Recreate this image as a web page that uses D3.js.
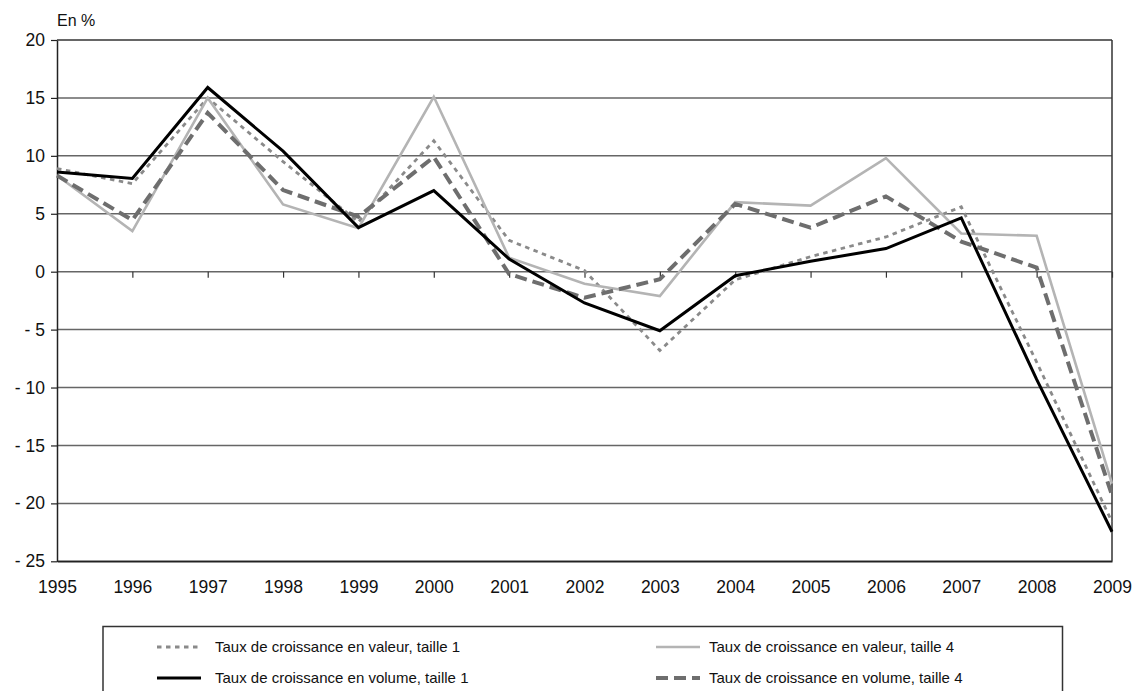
<!DOCTYPE html>
<html><head><meta charset="utf-8">
<script src="https://cdn.jsdelivr.net/npm/d3@7/dist/d3.min.js"></script>
<style>body{margin:0;background:#fff}svg{display:block;font-family:"Liberation Sans",Arial,sans-serif}</style>
</head><body><svg id="c" width="1133" height="691"></svg>
<script>
const years = [1995,1996,1997,1998,1999,2000,2001,2002,2003,2004,2005,2006,2007,2008,2009];
const valeurT1 = [8.9,7.6,15.0,9.5,4.3,11.3,2.7,0.1,-6.8,-0.7,1.3,3.0,5.6,-7.8,-21.6];
const valeurT4 = [8.3,3.5,15.0,5.8,3.75,15.1,1.2,-1.05,-2.1,6.0,5.7,9.8,3.3,3.1,-18.3];
const volumeT1 = [8.6,8.05,15.9,10.4,3.8,7.0,1.1,-2.7,-5.1,-0.35,0.9,2.0,4.65,-9.3,-22.45];
const volumeT4 = [8.3,4.45,13.7,7.05,4.75,9.9,-0.2,-2.25,-0.65,5.85,3.8,6.5,2.6,0.35,-19.3];
const yTicks = [20,15,10,5,0,-5,-10,-15,-20,-25];
const seriesNames = ["Taux de croissance en valeur, taille 1","Taux de croissance en valeur, taille 4","Taux de croissance en volume, taille 1","Taux de croissance en volume, taille 4"];

const svg = d3.select("#c");
const L=57, R=1112, T=40, B=561.3;
const x = d3.scaleLinear().domain([1995,2009]).range([L,R]);
const y = d3.scaleLinear().domain([-25,20]).range([B,T]);
const FF = "Liberation Sans, Arial, sans-serif";

// gridlines
svg.append("g").selectAll("line").data(yTicks).join("line")
  .attr("x1",L).attr("x2",R).attr("y1",d=>y(d)).attr("y2",d=>y(d))
  .attr("stroke",d=>d===20||d===-25?"#333":"#666").attr("stroke-width",1.5);
// right border
svg.append("line").attr("x1",R).attr("x2",R).attr("y1",T).attr("y2",B).attr("stroke","#333").attr("stroke-width",1.5);

// y axis
const yAx = svg.append("g").attr("transform",`translate(${L},0)`)
  .call(d3.axisLeft(y).tickValues(yTicks).tickSize(6).tickSizeOuter(0)
    .tickFormat(d=>d<0?"- "+Math.abs(d):String(d)));
yAx.select(".domain").attr("stroke","#222").attr("stroke-width",1.5);
yAx.selectAll(".tick line").attr("stroke","#222").attr("stroke-width",1.2);
yAx.selectAll(".tick text").attr("font-size",17.5).attr("fill","#111").attr("x",-12).attr("font-family",FF);

// x tick marks on zero line
const xAx0 = svg.append("g").attr("transform",`translate(0,${y(0)})`)
  .call(d3.axisBottom(x).tickValues(years.slice(1)).tickSize(6).tickFormat(""));
xAx0.select(".domain").remove();
xAx0.selectAll(".tick line").attr("stroke","#333").attr("stroke-width",1.2);

// x labels at bottom
const xAx = svg.append("g").attr("transform",`translate(0,${B})`)
  .call(d3.axisBottom(x).tickValues(years).tickSize(0).tickFormat(d3.format("d")));
xAx.select(".domain").attr("stroke","#222").attr("stroke-width",1.5);
xAx.selectAll(".tick text").attr("font-size",17.5).attr("fill","#111").attr("y",19).attr("dy","0.71em").attr("font-family",FF);

svg.append("text").attr("x",L).attr("y",26).attr("font-size",16).attr("fill","#111").attr("font-family",FF).text("En %");

const styles = [
  {data:valeurT1, color:"#8a8a8a", w:2.8, dash:"4.5,4.5"},
  {data:valeurT4, color:"#b4b4b4", w:2.6, dash:null},
  {data:volumeT4, color:"#6e6e6e", w:4, dash:"12,6"},
  {data:volumeT1, color:"#000", w:3, dash:null}
];
const line = d3.line().x((d,i)=>x(years[i])).y(d=>y(d));
styles.forEach(s=>{
  svg.append("path").datum(s.data).attr("d",line).attr("fill","none")
    .attr("stroke",s.color).attr("stroke-width",s.w)
    .attr("stroke-dasharray",s.dash).attr("stroke-linejoin","miter");
});

// legend
svg.append("rect").attr("x",103).attr("y",626.5).attr("width",959.5).attr("height",66)
  .attr("fill","none").attr("stroke","#333").attr("stroke-width",1.5);
const leg = [
  {name:seriesNames[0], s:styles[0], lx:157, tx:215, ly:647},
  {name:seriesNames[1], s:styles[1], lx:656, tx:709, ly:647},
  {name:seriesNames[2], s:styles[3], lx:157, tx:215, ly:678},
  {name:seriesNames[3], s:styles[2], lx:656, tx:709, ly:678}
];
leg.forEach(e=>{
  svg.append("line").attr("x1",e.lx).attr("x2",e.lx+44).attr("y1",e.ly).attr("y2",e.ly)
    .attr("stroke",e.s.color).attr("stroke-width",e.s.w).attr("stroke-dasharray",e.s.dash);
  svg.append("text").attr("x",e.tx).attr("y",e.ly).attr("dy","0.35em")
    .attr("font-size",15).attr("fill","#111").attr("font-family",FF).text(e.name);
});
</script></body></html>
